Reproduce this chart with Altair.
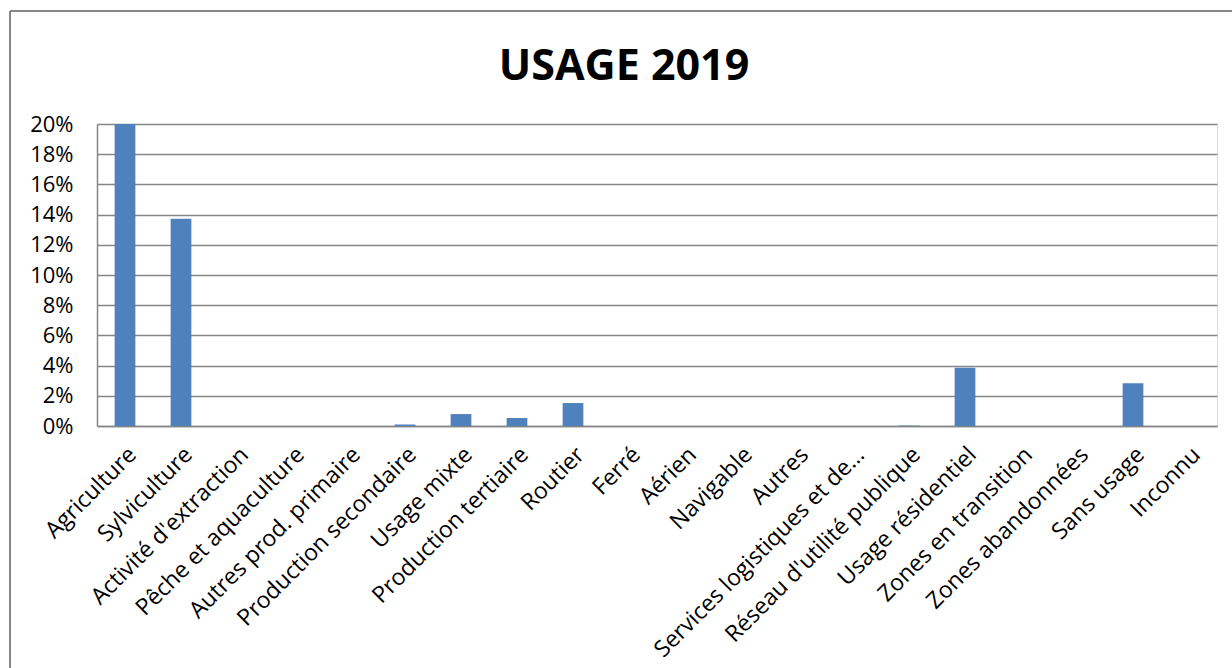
import altair as alt
import pandas as pd

categories = [
    "Agriculture", "Sylviculture", "Activité d'extraction", "Pêche et aquaculture",
    "Autres prod. primaire", "Production secondaire", "Usage mixte", "Production tertiaire",
    "Routier", "Ferré", "Aérien", "Navigable", "Autres", "Services logistiques et de…",
    "Réseau d'utilité publique", "Usage résidentiel", "Zones en transition",
    "Zones abandonnées", "Sans usage", "Inconnu",
]
values = [0.22, 0.1373, 0.0, 0.0, 0.0, 0.001, 0.0079, 0.0053, 0.0152, 0.0, 0.0, 0.0,
          0.0, 0.0, 0.0003, 0.0386, 0.0, 0.0, 0.0283, 0.0]
y_ticks = [0, 0.02, 0.04, 0.06, 0.08, 0.10, 0.12, 0.14, 0.16, 0.18, 0.20]

df = pd.DataFrame({"cat": categories, "val": values})

FONT = "Open Sans"
GRAY = "#868686"
W, H = 1120, 302

bars = alt.Chart(df).mark_bar(color="#4F81BD", clip=True).encode(
    x=alt.X("cat:N", sort=categories, title=None,
            scale=alt.Scale(paddingInner=0.63, paddingOuter=0.315),
            axis=alt.Axis(labelAngle=-45, labelFontSize=23, labelFont=FONT,
                          labelColor="black", ticks=False, domainColor=GRAY,
                          domainWidth=1.5, labelPadding=17, labelLimit=400,
                          labelOverlap=False)),
    y=alt.Y("val:Q", title=None,
            scale=alt.Scale(domain=[0, 0.2], nice=False),
            axis=alt.Axis(values=y_ticks, format=".0%", labelFontSize=22,
                          labelFont=FONT, labelColor="black", ticks=False,
                          domainColor=GRAY, domainWidth=1.5, gridColor=GRAY,
                          gridWidth=1.5, gridOpacity=1, labelPadding=24)),
)

frame_left = alt.Chart(df).mark_rule(color=GRAY, strokeWidth=2).encode(
    x=alt.value(-87), y=alt.value(-113), y2=alt.value(668 - 124)
)
frame_top = alt.Chart(df).mark_rule(color=GRAY, strokeWidth=2).encode(
    x=alt.value(-87), x2=alt.value(1232 - 97), y=alt.value(-113)
)

chart = alt.layer(frame_left, frame_top, bars).properties(
    width=W, height=H,
    title=alt.TitleParams("USAGE 2019", font=FONT, fontSize=43, fontWeight="bold",
                          color="black", anchor="middle", offset=-79, dx=-33),
    autosize=alt.AutoSizeParams(type="none"),
    padding={"left": 97, "top": 124, "right": 15, "bottom": 242},
).configure_view(stroke=None).configure(background="white")

chart.save("out.html", embed_options={"renderer": "svg", "actions": False})
